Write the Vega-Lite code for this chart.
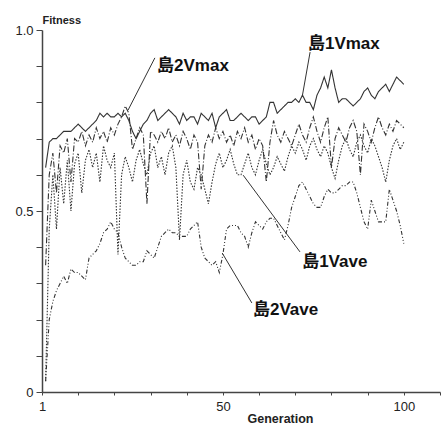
{
  "$schema": "https://vega.github.io/schema/vega-lite/v6.json",
  "width": 398,
  "height": 362,
  "autosize": {"type": "none"},
  "padding": {"left": 42, "top": 30, "right": 1, "bottom": 32},
  "background": "white",
  "config": {"view": {"stroke": null}, "axis": {"grid": false, "labelOverlap": false}},
  "datasets": {
    "series": [
      {"g":1,"島1Vmax":0.62,"島2Vmax":0.35,"島1Vave":0.03,"島2Vave":0.03},
      {"g":2,"島1Vmax":0.69,"島2Vmax":0.60,"島1Vave":0.45,"島2Vave":0.20},
      {"g":3,"島1Vmax":0.70,"島2Vmax":0.66,"島1Vave":0.60,"島2Vave":0.25},
      {"g":4,"島1Vmax":0.70,"島2Vmax":0.55,"島1Vave":0.45,"島2Vave":0.28},
      {"g":5,"島1Vmax":0.71,"島2Vmax":0.68,"島1Vave":0.62,"島2Vave":0.30},
      {"g":6,"島1Vmax":0.72,"島2Vmax":0.66,"島1Vave":0.52,"島2Vave":0.32},
      {"g":7,"島1Vmax":0.72,"島2Vmax":0.70,"島1Vave":0.64,"島2Vave":0.30},
      {"g":8,"島1Vmax":0.72,"島2Vmax":0.58,"島1Vave":0.50,"島2Vave":0.34},
      {"g":9,"島1Vmax":0.73,"島2Vmax":0.70,"島1Vave":0.63,"島2Vave":0.33},
      {"g":10,"島1Vmax":0.74,"島2Vmax":0.69,"島1Vave":0.66,"島2Vave":0.33},
      {"g":11,"島1Vmax":0.73,"島2Vmax":0.72,"島1Vave":0.55,"島2Vave":0.32},
      {"g":12,"島1Vmax":0.72,"島2Vmax":0.68,"島1Vave":0.64,"島2Vave":0.31},
      {"g":13,"島1Vmax":0.73,"島2Vmax":0.71,"島1Vave":0.67,"島2Vave":0.37},
      {"g":14,"島1Vmax":0.74,"島2Vmax":0.69,"島1Vave":0.62,"島2Vave":0.38},
      {"g":15,"島1Vmax":0.75,"島2Vmax":0.73,"島1Vave":0.66,"島2Vave":0.39},
      {"g":16,"島1Vmax":0.77,"島2Vmax":0.70,"島1Vave":0.58,"島2Vave":0.41},
      {"g":17,"島1Vmax":0.76,"島2Vmax":0.72,"島1Vave":0.68,"島2Vave":0.44},
      {"g":18,"島1Vmax":0.77,"島2Vmax":0.69,"島1Vave":0.64,"島2Vave":0.45},
      {"g":19,"島1Vmax":0.76,"島2Vmax":0.73,"島1Vave":0.62,"島2Vave":0.47},
      {"g":20,"島1Vmax":0.76,"島2Vmax":0.71,"島1Vave":0.66,"島2Vave":0.45},
      {"g":21,"島1Vmax":0.77,"島2Vmax":0.74,"島1Vave":0.38,"島2Vave":0.44},
      {"g":22,"島1Vmax":0.76,"島2Vmax":0.76,"島1Vave":0.60,"島2Vave":0.40},
      {"g":23,"島1Vmax":0.77,"島2Vmax":0.79,"島1Vave":0.65,"島2Vave":0.37},
      {"g":24,"島1Vmax":0.75,"島2Vmax":0.77,"島1Vave":0.62,"島2Vave":0.36},
      {"g":25,"島1Vmax":0.72,"島2Vmax":0.67,"島1Vave":0.58,"島2Vave":0.35},
      {"g":26,"島1Vmax":0.70,"島2Vmax":0.70,"島1Vave":0.64,"島2Vave":0.35},
      {"g":27,"島1Vmax":0.72,"島2Vmax":0.73,"島1Vave":0.67,"島2Vave":0.36},
      {"g":28,"島1Vmax":0.74,"島2Vmax":0.71,"島1Vave":0.63,"島2Vave":0.36},
      {"g":29,"島1Vmax":0.75,"島2Vmax":0.52,"島1Vave":0.60,"島2Vave":0.39},
      {"g":30,"島1Vmax":0.77,"島2Vmax":0.72,"島1Vave":0.66,"島2Vave":0.38},
      {"g":31,"島1Vmax":0.78,"島2Vmax":0.71,"島1Vave":0.68,"島2Vave":0.37},
      {"g":32,"島1Vmax":0.75,"島2Vmax":0.69,"島1Vave":0.62,"島2Vave":0.40},
      {"g":33,"島1Vmax":0.76,"島2Vmax":0.72,"島1Vave":0.65,"島2Vave":0.43},
      {"g":34,"島1Vmax":0.77,"島2Vmax":0.70,"島1Vave":0.60,"島2Vave":0.44},
      {"g":35,"島1Vmax":0.78,"島2Vmax":0.73,"島1Vave":0.66,"島2Vave":0.45},
      {"g":36,"島1Vmax":0.77,"島2Vmax":0.69,"島1Vave":0.68,"島2Vave":0.44},
      {"g":37,"島1Vmax":0.76,"島2Vmax":0.71,"島1Vave":0.62,"島2Vave":0.44},
      {"g":38,"島1Vmax":0.74,"島2Vmax":0.68,"島1Vave":0.42,"島2Vave":0.43},
      {"g":39,"島1Vmax":0.77,"島2Vmax":0.72,"島1Vave":0.60,"島2Vave":0.43},
      {"g":40,"島1Vmax":0.75,"島2Vmax":0.70,"島1Vave":0.64,"島2Vave":0.43},
      {"g":41,"島1Vmax":0.76,"島2Vmax":0.67,"島1Vave":0.58,"島2Vave":0.45},
      {"g":42,"島1Vmax":0.76,"島2Vmax":0.71,"島1Vave":0.56,"島2Vave":0.46},
      {"g":43,"島1Vmax":0.74,"島2Vmax":0.69,"島1Vave":0.62,"島2Vave":0.47},
      {"g":44,"島1Vmax":0.77,"島2Vmax":0.56,"島1Vave":0.60,"島2Vave":0.40},
      {"g":45,"島1Vmax":0.76,"島2Vmax":0.68,"島1Vave":0.56,"島2Vave":0.37},
      {"g":46,"島1Vmax":0.75,"島2Vmax":0.71,"島1Vave":0.52,"島2Vave":0.36},
      {"g":47,"島1Vmax":0.77,"島2Vmax":0.69,"島1Vave":0.58,"島2Vave":0.35},
      {"g":48,"島1Vmax":0.73,"島2Vmax":0.73,"島1Vave":0.63,"島2Vave":0.36},
      {"g":49,"島1Vmax":0.76,"島2Vmax":0.70,"島1Vave":0.66,"島2Vave":0.33},
      {"g":50,"島1Vmax":0.77,"島2Vmax":0.72,"島1Vave":0.62,"島2Vave":0.38},
      {"g":51,"島1Vmax":0.78,"島2Vmax":0.69,"島1Vave":0.64,"島2Vave":0.45},
      {"g":52,"島1Vmax":0.75,"島2Vmax":0.71,"島1Vave":0.67,"島2Vave":0.46},
      {"g":53,"島1Vmax":0.75,"島2Vmax":0.68,"島1Vave":0.63,"島2Vave":0.46},
      {"g":54,"島1Vmax":0.76,"島2Vmax":0.72,"島1Vave":0.60,"島2Vave":0.46},
      {"g":55,"島1Vmax":0.77,"島2Vmax":0.70,"島1Vave":0.60,"島2Vave":0.44},
      {"g":56,"島1Vmax":0.76,"島2Vmax":0.73,"島1Vave":0.63,"島2Vave":0.43},
      {"g":57,"島1Vmax":0.75,"島2Vmax":0.69,"島1Vave":0.66,"島2Vave":0.40},
      {"g":58,"島1Vmax":0.76,"島2Vmax":0.71,"島1Vave":0.62,"島2Vave":0.44},
      {"g":59,"島1Vmax":0.76,"島2Vmax":0.67,"島1Vave":0.60,"島2Vave":0.47},
      {"g":60,"島1Vmax":0.74,"島2Vmax":0.70,"島1Vave":0.64,"島2Vave":0.46},
      {"g":61,"島1Vmax":0.75,"島2Vmax":0.68,"島1Vave":0.67,"島2Vave":0.45},
      {"g":62,"島1Vmax":0.76,"島2Vmax":0.58,"島1Vave":0.63,"島2Vave":0.47},
      {"g":63,"島1Vmax":0.80,"島2Vmax":0.69,"島1Vave":0.60,"島2Vave":0.48},
      {"g":64,"島1Vmax":0.80,"島2Vmax":0.75,"島1Vave":0.62,"島2Vave":0.48},
      {"g":65,"島1Vmax":0.77,"島2Vmax":0.71,"島1Vave":0.65,"島2Vave":0.46},
      {"g":66,"島1Vmax":0.78,"島2Vmax":0.69,"島1Vave":0.63,"島2Vave":0.44},
      {"g":67,"島1Vmax":0.79,"島2Vmax":0.72,"島1Vave":0.61,"島2Vave":0.42},
      {"g":68,"島1Vmax":0.80,"島2Vmax":0.70,"島1Vave":0.65,"島2Vave":0.46},
      {"g":69,"島1Vmax":0.80,"島2Vmax":0.68,"島1Vave":0.68,"島2Vave":0.51},
      {"g":70,"島1Vmax":0.81,"島2Vmax":0.71,"島1Vave":0.66,"島2Vave":0.54},
      {"g":71,"島1Vmax":0.80,"島2Vmax":0.74,"島1Vave":0.69,"島2Vave":0.57},
      {"g":72,"島1Vmax":0.82,"島2Vmax":0.71,"島1Vave":0.67,"島2Vave":0.58},
      {"g":73,"島1Vmax":0.80,"島2Vmax":0.69,"島1Vave":0.64,"島2Vave":0.56},
      {"g":74,"島1Vmax":0.80,"島2Vmax":0.73,"島1Vave":0.68,"島2Vave":0.54},
      {"g":75,"島1Vmax":0.78,"島2Vmax":0.76,"島1Vave":0.70,"島2Vave":0.52},
      {"g":76,"島1Vmax":0.82,"島2Vmax":0.72,"島1Vave":0.67,"島2Vave":0.51},
      {"g":77,"島1Vmax":0.84,"島2Vmax":0.69,"島1Vave":0.65,"島2Vave":0.51},
      {"g":78,"島1Vmax":0.87,"島2Vmax":0.73,"島1Vave":0.68,"島2Vave":0.54},
      {"g":79,"島1Vmax":0.84,"島2Vmax":0.76,"島1Vave":0.66,"島2Vave":0.56},
      {"g":80,"島1Vmax":0.89,"島2Vmax":0.62,"島1Vave":0.62,"島2Vave":0.55},
      {"g":81,"島1Vmax":0.84,"島2Vmax":0.70,"島1Vave":0.59,"島2Vave":0.55},
      {"g":82,"島1Vmax":0.80,"島2Vmax":0.73,"島1Vave":0.64,"島2Vave":0.56},
      {"g":83,"島1Vmax":0.81,"島2Vmax":0.71,"島1Vave":0.68,"島2Vave":0.57},
      {"g":84,"島1Vmax":0.81,"島2Vmax":0.69,"島1Vave":0.70,"島2Vave":0.57},
      {"g":85,"島1Vmax":0.80,"島2Vmax":0.73,"島1Vave":0.67,"島2Vave":0.58},
      {"g":86,"島1Vmax":0.79,"島2Vmax":0.75,"島1Vave":0.65,"島2Vave":0.58},
      {"g":87,"島1Vmax":0.80,"島2Vmax":0.72,"島1Vave":0.69,"島2Vave":0.55},
      {"g":88,"島1Vmax":0.81,"島2Vmax":0.60,"島1Vave":0.71,"島2Vave":0.51},
      {"g":89,"島1Vmax":0.83,"島2Vmax":0.74,"島1Vave":0.68,"島2Vave":0.47},
      {"g":90,"島1Vmax":0.84,"島2Vmax":0.72,"島1Vave":0.66,"島2Vave":0.45},
      {"g":91,"島1Vmax":0.82,"島2Vmax":0.69,"島1Vave":0.70,"島2Vave":0.53},
      {"g":92,"島1Vmax":0.81,"島2Vmax":0.73,"島1Vave":0.68,"島2Vave":0.50},
      {"g":93,"島1Vmax":0.83,"島2Vmax":0.76,"島1Vave":0.65,"島2Vave":0.47},
      {"g":94,"島1Vmax":0.84,"島2Vmax":0.73,"島1Vave":0.62,"島2Vave":0.47},
      {"g":95,"島1Vmax":0.85,"島2Vmax":0.71,"島1Vave":0.58,"島2Vave":0.47},
      {"g":96,"島1Vmax":0.83,"島2Vmax":0.74,"島1Vave":0.64,"島2Vave":0.56},
      {"g":97,"島1Vmax":0.85,"島2Vmax":0.72,"島1Vave":0.68,"島2Vave":0.53},
      {"g":98,"島1Vmax":0.87,"島2Vmax":0.75,"島1Vave":0.70,"島2Vave":0.50},
      {"g":99,"島1Vmax":0.86,"島2Vmax":0.74,"島1Vave":0.67,"島2Vave":0.46},
      {"g":100,"島1Vmax":0.85,"島2Vmax":0.73,"島1Vave":0.69,"島2Vave":0.41}
    ],
    "labels": [
      {"name": "島1Vmax", "g": 73.5, "v": 0.962},
      {"name": "島2Vmax", "g": 31.8, "v": 0.9},
      {"name": "島1Vave", "g": 71.9, "v": 0.359},
      {"name": "島2Vave", "g": 58.3, "v": 0.227}
    ],
    "leaders": [
      {"g": 74.1, "v": 0.939, "g2": 71.9, "v2": 0.815},
      {"g": 31.2, "v": 0.923, "g2": 23.8, "v2": 0.779},
      {"g": 71.3, "v": 0.387, "g2": 55.6, "v2": 0.599},
      {"g": 58.0, "v": 0.246, "g2": 49.8, "v2": 0.384}
    ]
  },
  "layer": [
    {
      "data": {"name": "series"},
      "transform": [{"fold": ["島1Vmax", "島2Vmax", "島1Vave", "島2Vave"], "as": ["series", "value"]}],
      "mark": {"type": "line", "color": "#333333", "strokeWidth": 1.1},
      "encoding": {
        "x": {
          "field": "g", "type": "quantitative",
          "scale": {"domain": [0, 110], "nice": false, "zero": false},
          "axis": {
            "tickCount": 11,
            "labelExpr": "datum.value == 0 ? '1' : (datum.value == 50 ? '50' : (datum.value == 100 ? '100' : ''))",
            "labelOverlap": false,
            "title": "Generation",
            "titleX": 238, "titleY": 26, "titleBaseline": "middle",
            "titleFont": "Liberation Sans", "titleFontSize": 12.5, "titleFontWeight": "bold", "titleColor": "#222",
            "labelFont": "Liberation Sans", "labelFontSize": 13, "labelColor": "#222", "labelPadding": 5,
            "labelFlush": false,
            "tickSize": 3, "tickColor": "#444", "domainColor": "#444", "domainWidth": 1.5
          }
        },
        "y": {
          "field": "value", "type": "quantitative",
          "scale": {"domain": [0, 1], "nice": false},
          "axis": {
            "tickCount": 10,
            "labelExpr": "datum.value == 0 ? '0' : (abs(datum.value - 0.5) < 0.001 ? '0.5' : (datum.value == 1 ? '1.0' : ''))",
            "labelOverlap": false,
            "title": "Fitness",
            "titleAngle": 0, "titleX": 0, "titleY": -7, "titleAlign": "left", "titleBaseline": "alphabetic",
            "titleFont": "Liberation Sans", "titleFontSize": 11, "titleFontWeight": "bold", "titleColor": "#222",
            "labelFont": "Liberation Sans", "labelFontSize": 13, "labelColor": "#222", "labelPadding": 3,
            "labelFlush": false,
            "tickSize": 6, "tickColor": "#444", "domainColor": "#444", "domainWidth": 1.5
          }
        },
        "strokeDash": {
          "field": "series", "type": "nominal",
          "scale": {
            "domain": ["島1Vmax", "島2Vmax", "島1Vave", "島2Vave"],
            "range": [[1, 0], [6, 2, 1, 2], [1.5, 1.5], [4, 2, 1, 2, 1, 2]]
          },
          "legend": null
        },
        "detail": {"field": "series"}
      }
    },
    {
      "data": {"name": "leaders"},
      "mark": {"type": "rule", "color": "#333333", "strokeWidth": 1},
      "encoding": {
        "x": {"field": "g", "type": "quantitative"},
        "y": {"field": "v", "type": "quantitative"},
        "x2": {"field": "g2"},
        "y2": {"field": "v2"}
      }
    },
    {
      "data": {"name": "labels"},
      "mark": {"type": "text", "align": "left", "baseline": "middle", "font": "Liberation Sans, Noto Sans CJK JP", "fontSize": 17, "fontWeight": "bold", "color": "#111"},
      "encoding": {
        "x": {"field": "g", "type": "quantitative"},
        "y": {"field": "v", "type": "quantitative"},
        "text": {"field": "name"}
      }
    }
  ]
}
